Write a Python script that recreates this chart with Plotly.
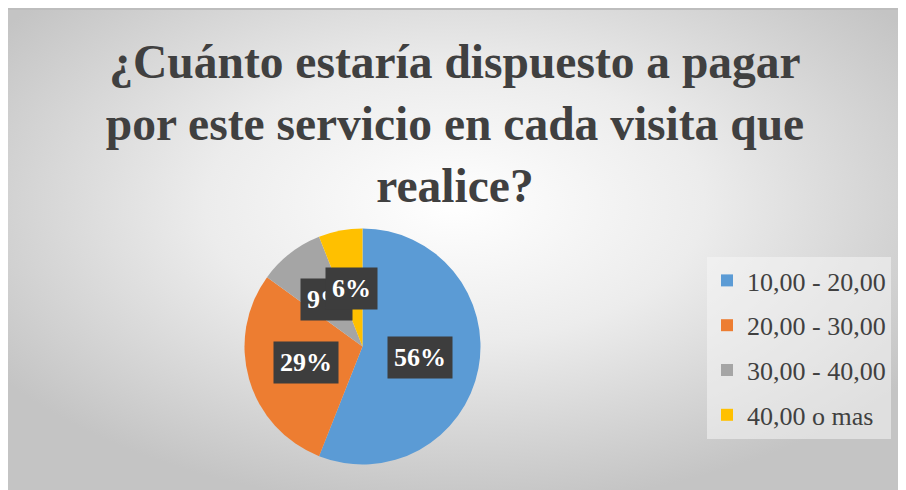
import base64
import math
import plotly.graph_objects as go

# ---- data ----
categories = ["10,00 - 20,00", "20,00 - 30,00", "30,00 - 40,00", "40,00 o mas"]
values = [56, 29, 9, 6]
colors = ["#5B9BD5", "#ED7D31", "#A5A5A5", "#FFC000"]
title_text = "¿Cuánto estaría dispuesto a pagar<br>por este servicio en cada visita que<br>realice?"

# ---- layout constants (pixels, relative to the figure's top-left) ----
W, H = 906, 490
CX, CY, R = 354.5, 338.5, 118.0
LABEL_FRAC = 0.5

def px_x(x):
    return x / W

def px_y(y):
    return 1 - y / H

# background radial gradient as svg
BG_W, BG_H = 894, 490
svg = (
    f'<svg xmlns="http://www.w3.org/2000/svg" width="{BG_W}" height="{BG_H}" viewBox="0 0 {BG_W} {BG_H}">'
    '<defs><radialGradient id="g" cx="50%" cy="40%" r="62%">'
    '<stop offset="0" stop-color="#ffffff"/>'
    '<stop offset="0.45" stop-color="#ececec"/>'
    '<stop offset="1" stop-color="#c4c4c4"/>'
    '</radialGradient></defs>'
    f'<rect width="{BG_W}" height="{BG_H}" fill="url(#g)"/></svg>'
)
src = "data:image/svg+xml;base64," + base64.b64encode(svg.encode()).decode()

fig = go.Figure()

fig.add_trace(go.Pie(
    labels=categories,
    values=values,
    marker=dict(colors=colors, line=dict(width=0)),
    sort=False,
    direction="clockwise",
    rotation=0,
    textinfo="none",
    hovertemplate="%{label}: %{percent}<extra></extra>",
    showlegend=False,
    domain=dict(x=[px_x(CX - R), px_x(CX + R)], y=[px_y(CY + R), px_y(CY - R)]),
))

# legend entries
for cat, col in zip(categories, colors):
    fig.add_trace(go.Scatter(
        x=[None], y=[None], mode="markers", name=cat, legendgroup=cat,
        marker=dict(symbol="square", size=12, color=col),
        hoverinfo="skip",
    ))

# data labels computed from the values
total = sum(values)
annotations = []
cum = 0
for v in values:
    mid = (cum + v / 2) / total * 2 * math.pi
    cum += v
    lx = CX + LABEL_FRAC * R * math.sin(mid)
    ly = CY - LABEL_FRAC * R * math.cos(mid)
    annotations.append(dict(
        x=px_x(lx), y=px_y(ly), xref="paper", yref="paper",
        text=f"{round(v / total * 100)}%", showarrow=False,
        font=dict(family="Liberation Serif", size=26, color="white", weight="bold"),
        bgcolor="#3d3d3d", borderpad=6, xanchor="center", yanchor="middle",
    ))

fig.update_layout(
    width=W, height=H,
    margin=dict(l=0, r=0, t=0, b=0),
    paper_bgcolor="white",
    plot_bgcolor="rgba(0,0,0,0)",
    xaxis=dict(visible=False),
    yaxis=dict(visible=False),
    images=[dict(source=src, xref="paper", yref="paper", x=0, y=1,
                 sizex=BG_W / W, sizey=BG_H / H, xanchor="left", yanchor="top",
                 sizing="stretch", layer="below")],
    shapes=[dict(type="line", xref="paper", yref="paper", x0=0, x1=px_x(BG_W),
                 y0=px_y(1), y1=px_y(1), line=dict(color="#bdbdbd", width=2))],
    title=dict(text=title_text, x=px_x(447), xanchor="center", y=px_y(70), yanchor="middle",
               font=dict(family="Liberation Serif", size=47.5, color="#404040", weight="bold")),
    legend=dict(x=px_x(699), xanchor="left", y=px_y(340), yanchor="middle",
                font=dict(family="Liberation Serif", size=26, color="#404040"),
                bgcolor="rgba(245,245,245,0.55)", tracegroupgap=8, itemclick=False),
    annotations=annotations,
)

fig.write_html("out.html")
